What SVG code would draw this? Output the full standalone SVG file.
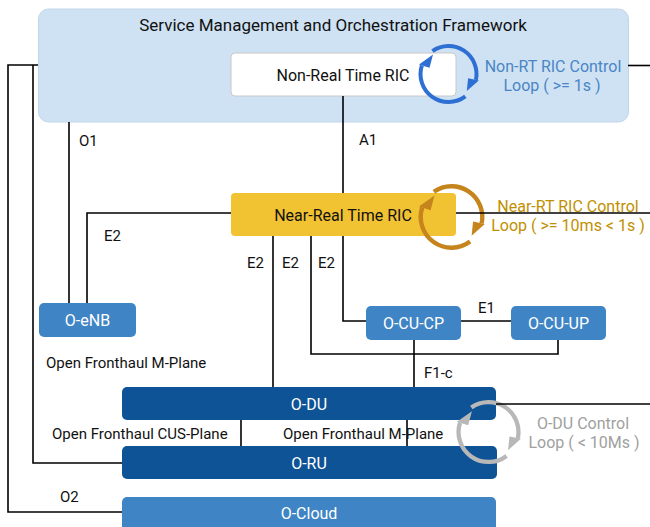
<svg xmlns="http://www.w3.org/2000/svg" xmlns:xlink="http://www.w3.org/1999/xlink" width="650" height="527" viewBox="0 0 650 527">
  <style>
    text { font-family: Roboto, "Liberation Sans", Arial, sans-serif; font-size: 15px; fill: #111; }
    .mid { text-anchor: middle; }
    .node { font-size: 16px; }
    .wt { fill: #ffffff; }
    .blueTxt { fill: #4a86c6; font-size: 16px; }
    .goldTxt { fill: #bf9000; font-size: 16px; }
    .grayTxt { fill: #a0a0a0; font-size: 16px; }
    .box-light { fill: #3f85c6; }
    .box-dark { fill: #0e5395; }
    .conn path { fill: none; stroke: #000; stroke-width: 1.6; }
  </style>
  <defs>
    <!-- clockwise two-arrow control loop, radius 28, centred on the origin -->
    <g id="loop">
      <path d="M16.85,22.36 A28,28 0 0 1 -26.63,-8.65" fill="none" stroke="currentColor" stroke-width="4"/>
      <path d="M-16.06,-22.94 A28,28 0 0 1 27.39,5.82" fill="none" stroke="currentColor" stroke-width="4"/>
      <polygon points="-29.5,-9.6 -19,-6.2 -15.5,-19.5" fill="currentColor"/>
      <polygon points="30.3,6.4 19.6,4.2 18.3,17" fill="currentColor"/>
    </g>
  </defs>

  <!-- Service Management and Orchestration framework -->
  <g id="smo">
    <rect x="38.5" y="9" width="590" height="113" rx="10" fill="#cfe2f3" stroke="#c3d6e9" stroke-width="1"/>
    <text class="mid" x="333" y="31" style="font-size:17px">Service Management and Orchestration Framework</text>
  </g>

  <g id="non-rt-ric">
    <rect x="231" y="53" width="225" height="43" rx="4" fill="#ffffff" stroke="#c8c8c8" stroke-width="1"/>
    <text class="mid node" x="343" y="80.5">Non-Real Time RIC</text>
  </g>

  <g id="near-rt-ric">
    <rect x="231" y="193" width="225" height="43" rx="4" fill="#f1c232"/>
    <text class="mid node" x="343" y="220.5">Near-Real Time RIC</text>
  </g>

  <g id="o-enb">
    <rect class="box-light" x="39" y="303" width="97" height="34" rx="5"/>
    <text class="mid node wt" x="87.5" y="325.5">O-eNB</text>
  </g>

  <g id="o-cu-cp">
    <rect class="box-light" x="366" y="306" width="95" height="34" rx="5"/>
    <text class="mid node wt" x="413.5" y="328.5">O-CU-CP</text>
  </g>

  <g id="o-cu-up">
    <rect class="box-light" x="511" y="306" width="95" height="34" rx="5"/>
    <text class="mid node wt" x="558.5" y="328.5">O-CU-UP</text>
  </g>

  <g id="o-du">
    <rect class="box-dark" x="122" y="387" width="374" height="33" rx="5"/>
    <text class="mid node wt" x="309" y="409.5">O-DU</text>
  </g>

  <g id="o-ru">
    <rect class="box-dark" x="122" y="446" width="375" height="33" rx="5"/>
    <text class="mid node wt" x="309" y="468.5">O-RU</text>
  </g>

  <g id="o-cloud">
    <rect class="box-light" x="122" y="497" width="374" height="40" rx="5"/>
    <text class="mid node wt" x="309" y="518.5">O-Cloud</text>
  </g>

  <!-- control loops -->
  <g id="non-rt-loop">
    <use xlink:href="#loop" href="#loop" transform="translate(448.5,74)" style="color:#2e6fd4"/>
    <text class="mid blueTxt" x="553" y="71.5">Non-RT RIC Control</text>
    <text class="mid blueTxt" x="552" y="91">Loop ( &gt;= 1s )</text>
  </g>

  <g id="near-rt-loop">
    <use xlink:href="#loop" href="#loop" transform="translate(451.5,217) scale(1.1)" style="color:#c5841c"/>
    <text class="mid goldTxt" x="568" y="211.5">Near-RT RIC Control</text>
    <text class="mid goldTxt" x="568" y="231">Loop ( &gt;= 10ms &lt; 1s )</text>
  </g>

  <g id="o-du-loop">
    <use xlink:href="#loop" href="#loop" transform="translate(488.5,432) scale(1.07)" style="color:#b8b8b8"/>
    <text class="mid grayTxt" x="583" y="428.5">O-DU Control</text>
    <text class="mid grayTxt" x="584" y="448">Loop ( &lt; 10Ms )</text>
  </g>

  <!-- interfaces -->
  <g id="connectors" class="conn">
    <path d="M38,65 H8 V512 H122"/>
    <path d="M33,65 V463 H122"/>
    <path d="M628,65.5 H650"/>
    <path d="M69,122 V303"/>
    <path d="M231,213 H87 V303"/>
    <path d="M343,96 V193"/>
    <path d="M456,213 H650"/>
    <path d="M273,236 V387"/>
    <path d="M311,236 V354 H558 V340"/>
    <path d="M343,236 V321 H366"/>
    <path d="M461,321 H511"/>
    <path d="M414,340 V387"/>
    <path d="M241,420 V446"/>
    <path d="M407,420 V446"/>
    <path d="M496,404 H650"/>
  </g>

  <!-- interface labels -->
  <g id="labels">
    <text x="79" y="146">O1</text>
    <text x="359" y="145">A1</text>
    <text x="104" y="241">E2</text>
    <text x="247" y="268">E2</text>
    <text x="282" y="268">E2</text>
    <text x="318" y="268">E2</text>
    <text x="478" y="313">E1</text>
    <text x="46" y="368">Open Fronthaul M-Plane</text>
    <text x="424" y="378">F1-c</text>
    <text x="52" y="439">Open Fronthaul CUS-Plane</text>
    <text x="283" y="439">Open Fronthaul M-Plane</text>
    <text x="60" y="502">O2</text>
  </g>
</svg>
